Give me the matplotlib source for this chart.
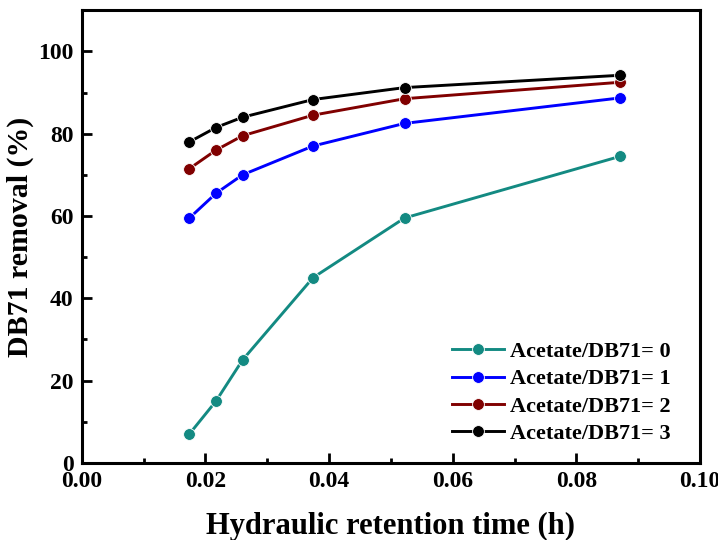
import matplotlib
matplotlib.use("Agg")
import matplotlib.pyplot as plt
from matplotlib.ticker import MultipleLocator, FormatStrFormatter

plt.rcParams['font.family'] = ['Liberation Serif', 'DejaVu Serif']
plt.rcParams['font.weight'] = 'bold'

hrt = [0.0174, 0.0217, 0.0260, 0.0374, 0.0522, 0.0871]
r0 = [7.0, 15.0, 25.0, 45.0, 59.5, 74.5]
r1 = [59.5, 65.5, 70.0, 77.0, 82.5, 88.7]
r2 = [71.5, 76.0, 79.5, 84.5, 88.5, 92.5]
r3 = [78.0, 81.5, 84.0, 88.3, 91.2, 94.2]
labels = ['Acetate/DB71= 0', 'Acetate/DB71= 1', 'Acetate/DB71= 2', 'Acetate/DB71= 3']
colors = ['#138a82', '#0000ff', '#800000', '#000000']

fig = plt.figure(figsize=(7.18, 5.4), dpi=100)
ax = fig.add_axes([0.114, 0.143, 0.861, 0.838])

for ys, lab, col in zip([r0, r1, r2, r3], labels, colors):
    ax.plot(hrt, ys, '-o', color=col, lw=2.1, ms=8.5, mec='white', mew=0.6, label=lab)

ax.set_xlim(0, 0.10)
ax.set_ylim(0, 110)
ax.xaxis.set_major_locator(MultipleLocator(0.02))
ax.xaxis.set_minor_locator(MultipleLocator(0.01))
ax.xaxis.set_major_formatter(FormatStrFormatter('%.2f'))
ax.yaxis.set_major_locator(MultipleLocator(20))
ax.yaxis.set_minor_locator(MultipleLocator(10))
ax.tick_params(which='major', direction='in', length=7, width=2, labelsize=17, pad=6)
ax.tick_params(which='minor', direction='in', length=3.5, width=2)
for s in ax.spines.values():
    s.set_linewidth(2.2)

ax.set_xlabel('Hydraulic retention time (h)', fontsize=22, fontweight='bold', labelpad=14)
ax.set_ylabel('DB71 removal (%)', fontsize=21.5, fontweight='bold', labelpad=3)

ax.legend(loc='lower right', bbox_to_anchor=(0.966, 0.022), frameon=False, fontsize=16,
          handlelength=2.35, labelspacing=0.3, handletextpad=0.25, borderaxespad=0)

fig.savefig('out.png', dpi=100)
